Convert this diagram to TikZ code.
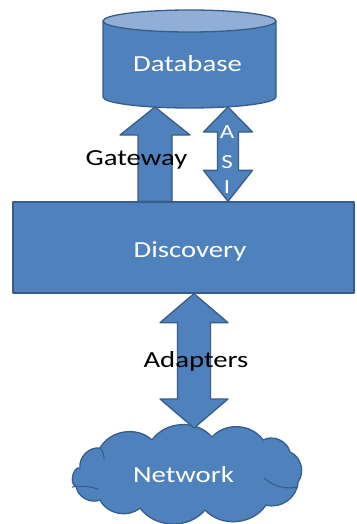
\documentclass[tikz,border=0pt]{standalone}
\usepackage{fontspec}
\setmainfont{Carlito}[FakeStretch=1.25]
\usetikzlibrary{calc}
\definecolor{blfill}{RGB}{79,129,189}
\definecolor{bldraw}{RGB}{56,93,138}
\definecolor{bltop}{RGB}{145,174,214}
\newcommand\upBlock[5]{% tail, tip, shaft half width, head half width, head length
  \path[shapefill] let \p1=(#1), \p2=(#2) in
    (\x1-#3pt,\y1) -- (\x1-#3pt,\y2-#5pt) -- (\x1-#4pt,\y2-#5pt) -- (\x2,\y2)
    -- (\x1+#4pt,\y2-#5pt) -- (\x1+#3pt,\y2-#5pt) -- (\x1+#3pt,\y1) -- cycle;}
\newcommand\dblBlock[6]{% bottom tip, top tip, shaft hw, head hw, top head len, bottom head len
  \path[shapefill] let \p1=(#1), \p2=(#2) in
    (\x1,\y1) -- (\x1-#4pt,\y1+#6pt) -- (\x1-#3pt,\y1+#6pt) -- (\x1-#3pt,\y2-#5pt)
    -- (\x1-#4pt,\y2-#5pt) -- (\x2,\y2) -- (\x1+#4pt,\y2-#5pt) -- (\x1+#3pt,\y2-#5pt)
    -- (\x1+#3pt,\y1+#6pt) -- (\x1+#4pt,\y1+#6pt) -- cycle;}
\begin{document}
\begin{tikzpicture}[x=1pt,y=-1pt,
  shapefill/.style={fill=blfill, draw=bldraw, line width=1.3pt, line join=round},
  wtext/.style={text=white, font=\fontsize{23}{27}\selectfont, inner sep=0pt, anchor=base},
  ktext/.style={text=black, font=\fontsize{23}{27}\selectfont, inner sep=0pt, anchor=base},
  stext/.style={text=white, font=\fontsize{20}{24}\selectfont, inner sep=0pt, anchor=base},
  lobe/.style={bend left=52},
]
\useasboundingbox (0,0) rectangle (356,524);
\fill[white] (0,0) rectangle (356,524);

% Discovery box
\node[shapefill, rectangle, minimum width=341pt, minimum height=91pt, inner sep=0pt] (disc) at (183.5,247.5) {};

% Database cylinder
\path[shapefill] (103,21) -- (103,97) arc[start angle=180,end angle=0,x radius=86.5,y radius=11] -- (276,21) -- cycle;
\path[shapefill, fill=bltop] (189.5,21) ellipse[x radius=86.5, y radius=11];
\coordinate (dbbot) at (189.5,107);

% Network cloud
\path[shapefill] (80,468) to[lobe] (100,448) to[lobe] (152,440) to[lobe] (212,437)
  to[lobe] (263,440) to[lobe] (290,452) to[lobe] (298,482) to[lobe] (266,505)
  to[lobe] (205,510) to[lobe] (140,508) to[lobe] (100,500) to[lobe] (76,486)
  to[bend left=95] (80,468) -- cycle;
\draw[bldraw, line width=1.1pt] (72,487) to[bend left=12] (98,489);
\draw[bldraw, line width=1.1pt] (264,478) to[bend right=25] (298,487);
\draw[bldraw, line width=1.1pt] (100,448) to[bend left=20] (104,459);
\coordinate (net) at (186,473);
\coordinate (nettop) at (194,428);

% connector anchors
\coordinate (gwx) at (155,0);
\coordinate (asix) at (228,0);
\coordinate (adx) at (194,0);
\coordinate (gwtail) at (gwx |- disc.north);
\coordinate (gwtip) at (gwx |- dbbot);
\coordinate (asibot) at (asix |- disc.north);
\coordinate (asitop) at (asix |- dbbot);
\coordinate (adtop) at (adx |- disc.south);
\coordinate (adbot) at (adx |- nettop);

\upBlock{gwtail}{gwtip}{17}{35}{28}
\dblBlock{asibot}{asitop}{10.5}{24.5}{25}{31}
\dblBlock{adbot}{adtop}{16.5}{34}{29}{29}

% texts
\node[wtext] (dbt) at (187.5,72) {Database};
\node[wtext] (disct) at (190,257) {Discovery};
\node[wtext] (nett) at (183.5,482) {Network};
\node[ktext] (gwt) at (136.5,165) {Gateway};
\node[ktext] (adt) at (196,367) {Adapters};
\node[stext] (asiA) at (227,138) {A};
\node[stext] (asiS) at (227,168) {S};
\node[stext] (asiI) at (227,193) {I};
\end{tikzpicture}
\end{document}
